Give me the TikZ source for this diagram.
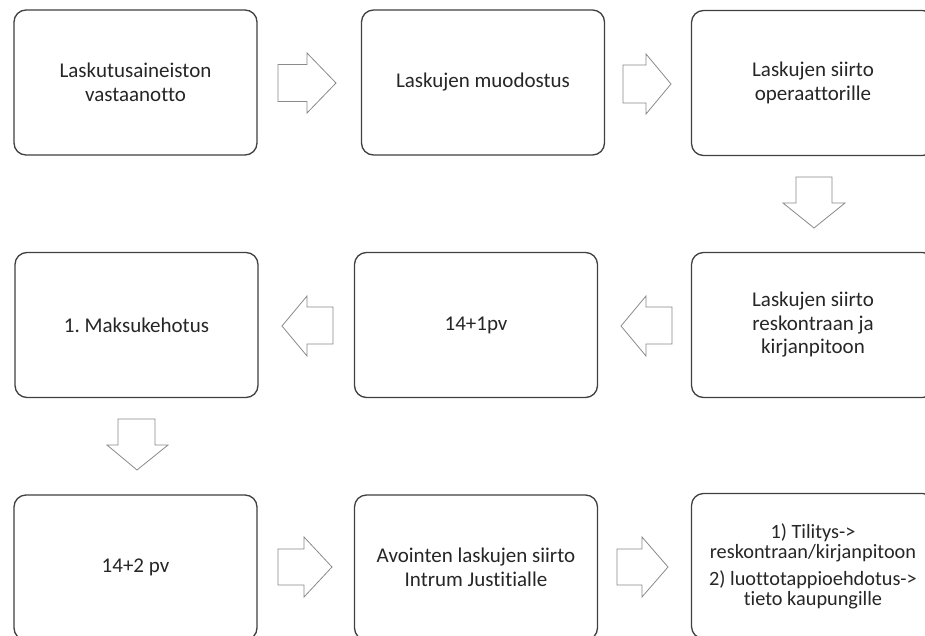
\documentclass[tikz,border=0pt]{standalone}
\usepackage{fontspec}
\setmainfont{Carlito}[Ligatures={NoCommon}]
\frenchspacing
\definecolor{boxline}{HTML}{404040}
\definecolor{arrline}{HTML}{8A8A8A}
\definecolor{txt}{HTML}{262626}
\tikzset{
  box/.style={draw=boxline, line width=1.3pt, rounded corners=12pt, fill=white,
    minimum width=243pt, minimum height=145pt, align=center, text=txt,
    font=\fontsize{21}{23.5}\selectfont, inner sep=2pt},
  blockarr/.style={draw=arrline, line width=0.8pt, fill=white, line join=miter}
}
\begin{document}
\begin{tikzpicture}[x=1pt,y=-1pt]
\useasboundingbox (0,0) rectangle (925,636);
\clip (0,0) rectangle (925,636);
\fill[white] (0,0) rectangle (925,636);
% row 1
\node[box] (b1) at (135.5,82.5) {Laskutusaineiston\\vastaanotto};
\node[box] (b2) at (483,82.5) {Laskujen muodostus};
\node[box] (b3) at (813,83) {Laskujen siirto\\operaattorille};
% row 2
\node[box] (b4) at (813,325) {Laskujen siirto\\reskontraan ja\\kirjanpitoon};
\node[box] (b5) at (476,325) {14+1pv};
\node[box] (b6) at (136.5,325) {1. Maksukehotus};
% row 3
\node[box] (b7) at (135.5,567.5) {14+2 pv};
\node[box] (b8) at (476,567.5) {Avointen laskujen siirto\\Intrum Justitialle};
\node[box, font=\fontsize{20.3}{20}\selectfont] (b9) at (813,566)
  {1) Tilitys->\\reskontraan/kirjanpitoon\\[7pt]2) luottotappioehdotus->\\tieto kaupungille};
% block arrows, row 1 (right)
\draw[blockarr] (278,64.5) -- (307,64.5) -- (307,53) -- (336,83) -- (307,113) -- (307,101.5) -- (278,101.5) -- cycle;
\draw[blockarr] (623,65) -- (646,65) -- (646,54) -- (671,84) -- (646,114) -- (646,103) -- (623,103) -- cycle;
% down arrow right column
\draw[blockarr] (796,177) -- (832,177) -- (832,203) -- (845,203) -- (814,228) -- (783,203) -- (796,203) -- cycle;
% row 2 (left)
\draw[blockarr] (672,307) -- (646,307) -- (646,296) -- (621,326) -- (646,356) -- (646,344) -- (672,344) -- cycle;
\draw[blockarr] (333,307) -- (307,307) -- (307,296) -- (282,326) -- (307,356) -- (307,344) -- (333,344) -- cycle;
% down arrow left column
\draw[blockarr] (118,419) -- (155,419) -- (155,445) -- (168,445) -- (137,470) -- (107,445) -- (118,445) -- cycle;
% row 3 (right)
\draw[blockarr] (278,549) -- (304,549) -- (304,537) -- (332,567) -- (304,597) -- (304,585) -- (278,585) -- cycle;
\draw[blockarr] (617,549) -- (642,549) -- (642,537) -- (668,567) -- (642,597) -- (642,585) -- (617,585) -- cycle;
\end{tikzpicture}
\end{document}
